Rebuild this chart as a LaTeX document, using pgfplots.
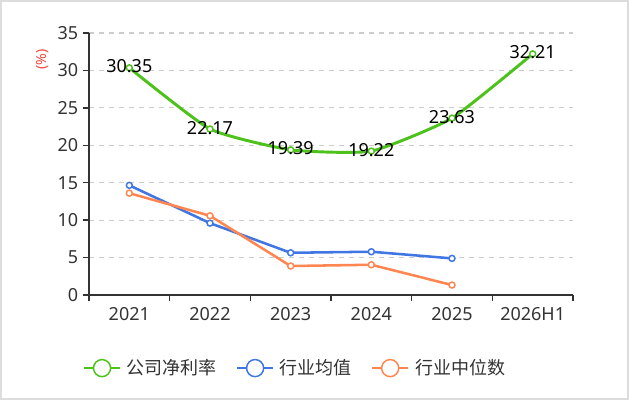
\documentclass[border=0pt]{standalone}
\usepackage{pgfplots}
\pgfplotsset{compat=1.18}
\usepackage{fontspec}
\setmainfont{Noto Sans}
\newfontfamily\cjk{Noto Sans CJK SC}
\definecolor{cgreen}{HTML}{4DC21A}
\definecolor{cblue}{HTML}{3F76E4}
\definecolor{corange}{HTML}{FF8650}
\definecolor{ctext}{HTML}{333333}
\definecolor{cgrid}{HTML}{CCCCCC}
\definecolor{cborder}{HTML}{DDDDDD}
\definecolor{cred}{HTML}{F2453D}
\begin{document}
\begin{tikzpicture}
\fill[white] (0,0) rectangle (471.75pt,300pt);
\draw[cborder, line width=1.5pt] (0.75pt,0.75pt) rectangle (471pt,299.25pt);
\begin{axis}[
  at={(66.75pt,78.75pt)}, anchor=south west,
  scale only axis, width=363pt, height=196.5pt,
  xmin=-0.5, xmax=5.5, ymin=0, ymax=35,
  axis x line=bottom, axis y line=left,
  axis line style={ctext, line width=1pt, -},
  xtick={-0.5,0.5,1.5,2.5,3.5,4.5,5.5},
  x tick label as interval,
  xticklabels={2021,2022,2023,2024,2025,2026H1},
  xticklabel style={yshift=-1.5pt},
  ytick={0,5,...,35},
  tick align=outside,
  major tick length=4.5pt,
  tick style={ctext, line width=1pt},
  ymajorgrids,
  major grid style={cgrid, line width=0.8pt, dash pattern=on 4pt off 3.5pt},
  ticklabel style={font=\fontsize{13.5}{14}\selectfont, text=ctext},
  /pgf/number format/assume math mode=true,
  ylabel={(\%)},
  ylabel style={at={(rel axis cs:-0.097,0.90)}, anchor=center, text=cred, font=\fontsize{10.5}{11}\selectfont},
  clip=false,
  legend columns=-1,
  legend style={at={(0.43,-0.279)}, anchor=center, draw=none, fill=none,
    font=\cjk\fontsize{13.5}{14}\selectfont, text=ctext,
    /tikz/every even column/.append style={column sep=10pt},
    nodes={inner xsep=4.5pt}},
  legend image code/.code={
    \draw[#1, line width=1.3pt] (0pt,0pt) -- (27pt,0pt);
    \draw[#1, line width=1.1pt, fill=white] (13.5pt,0pt) circle (6.4pt);
  },
  nodes near coords={\pgfmathprintnumber[fixed,fixed zerofill,precision=2,assume math mode=true]{\pgfplotspointmeta}},
  every node near coord/.append style={anchor=center, yshift=1pt, font=\fontsize{13.5}{14}\selectfont, text=black},
]
\addplot[cgreen, line width=2.2pt, smooth, tension=0.3, mark=*, mark size=2.25pt,
  mark options={fill=white, draw=cgreen, line width=1.1pt}]
  coordinates {(0,30.35) (1,22.17) (2,19.39) (3,19.22) (4,23.63) (5,32.21)};
\addlegendentry{公司净利率}
\addplot[cblue, line width=1.9pt, mark=*, mark size=2.25pt, nodes near coords={},
  mark options={fill=white, draw=cblue, line width=1.1pt}]
  coordinates {(0,14.65) (1,9.6) (2,5.64) (3,5.78) (4,4.89)};
\addlegendentry{行业均值}
\addplot[corange, line width=1.9pt, mark=*, mark size=2.25pt, nodes near coords={},
  mark options={fill=white, draw=corange, line width=1.1pt}]
  coordinates {(0,13.6) (1,10.58) (2,3.87) (3,4.04) (4,1.33)};
\addlegendentry{行业中位数}
\end{axis}
\pgfresetboundingbox
\path (0,0) rectangle (471.75pt,300pt);
\end{tikzpicture}
\end{document}
